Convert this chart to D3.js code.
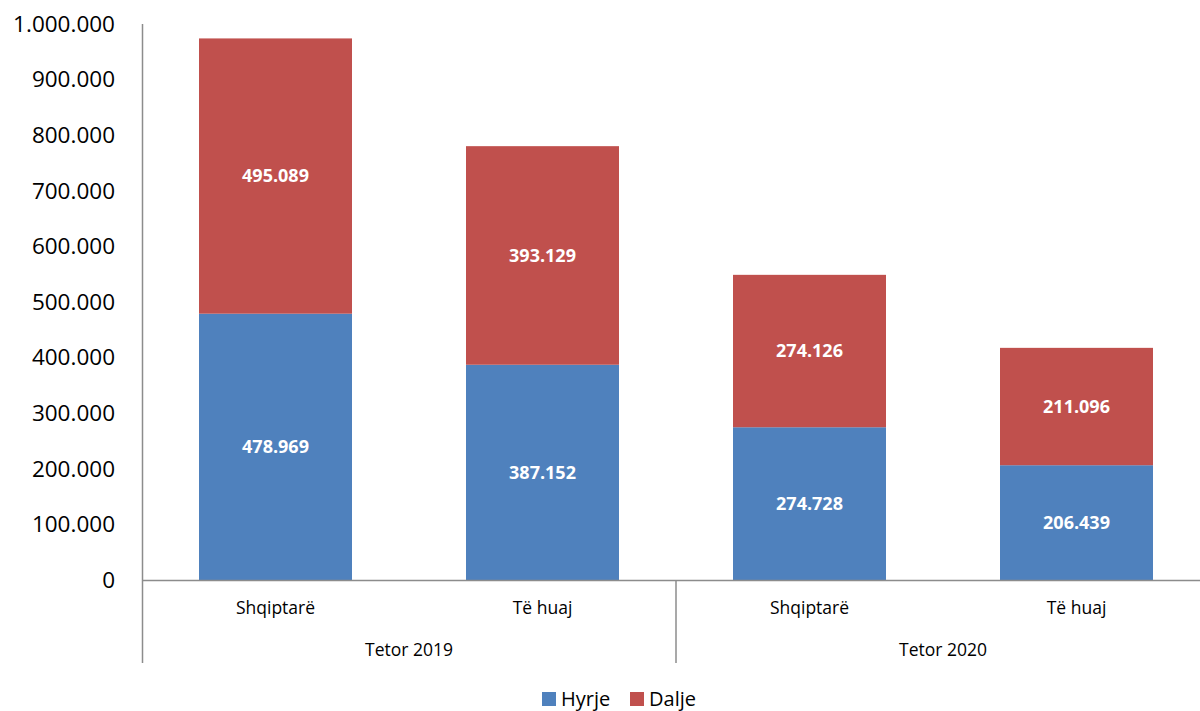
<!DOCTYPE html>
<html>
<head>
<meta charset="utf-8">
<script src="https://cdn.jsdelivr.net/npm/d3@7"></script>
<style>
  html, body { margin: 0; padding: 0; background: #fff; }
  svg { display: block; }
  text { font-family: "Open Sans", "Noto Sans", sans-serif; }
</style>
</head>
<body>
<svg id="chart" width="1200" height="711"></svg>
<script>
const categories = ["Shqiptarë", "Të huaj", "Shqiptarë", "Të huaj"];
const groups = ["Tetor 2019", "Tetor 2020"];
const hyrje = [478969, 387152, 274728, 206439];
const dalje = [495089, 393129, 274126, 211096];
const seriesNames = ["Hyrje", "Dalje"];
const yTicks = [0, 100000, 200000, 300000, 400000, 500000, 600000, 700000, 800000, 900000, 1000000];

const colors = { Hyrje: "#4F81BD", Dalje: "#C0504D" };
const locale = d3.formatLocale({ decimal: ",", thousands: ".", grouping: [3], currency: ["", ""] });
const fmt = locale.format(",d");

const svg = d3.select("#chart");
const x0 = 142, x1 = 1210, yTop = 24, yBase = 580, axisBottom = 663;

const idx = categories.map((c, i) => i);
const x = d3.scaleBand().domain(idx).range([x0, x1]).paddingInner(0.427).paddingOuter(0.2135);
const y = d3.scaleLinear().domain([0, 1000000]).range([yBase, yTop]);

const data = idx.map(i => ({ i, Hyrje: hyrje[i], Dalje: dalje[i] }));
const stack = d3.stack().keys(seriesNames)(data);

// bars
stack.forEach(s => {
  svg.append("g").selectAll("rect").data(s).join("rect")
    .attr("x", d => x(d.data.i))
    .attr("width", x.bandwidth())
    .attr("y", d => y(d[1]))
    .attr("height", d => y(d[0]) - y(d[1]))
    .attr("fill", colors[s.key]);
});

// value labels
stack.forEach(s => {
  svg.append("g").selectAll("text").data(s).join("text")
    .attr("x", d => x(d.data.i) + x.bandwidth() / 2)
    .attr("y", d => (y(d[0]) + y(d[1])) / 2)
    .attr("dy", "0.35em")
    .attr("text-anchor", "middle")
    .attr("fill", "#fff")
    .attr("font-weight", "bold")
    .attr("font-size", 18)
    .text(d => fmt(d[1] - d[0]));
});

// y axis labels
svg.append("g").selectAll("text").data(yTicks).join("text")
  .attr("x", 115)
  .attr("y", d => y(d))
  .attr("dy", "0.35em")
  .attr("text-anchor", "end")
  .attr("font-size", 22.5)
  .attr("fill", "#000")
  .text(d => fmt(d));

// y axis line
svg.append("line")
  .attr("x1", x0 + 0.5).attr("x2", x0 + 0.5)
  .attr("y1", yTop).attr("y2", axisBottom)
  .attr("stroke", "#8c8c8c").attr("stroke-width", 1.5);

// x axis line
svg.append("line")
  .attr("x1", x0).attr("x2", 1200)
  .attr("y1", yBase + 0.5).attr("y2", yBase + 0.5)
  .attr("stroke", "#8c8c8c").attr("stroke-width", 1.5);

// group separators and group labels
const step = x.step();
groups.forEach((g, gi) => {
  const sepX = x0 + (gi + 1) * 2 * step;
  svg.append("line")
    .attr("x1", sepX).attr("x2", sepX)
    .attr("y1", yBase).attr("y2", axisBottom)
    .attr("stroke", "#8c8c8c").attr("stroke-width", 1.5);
  svg.append("text")
    .attr("x", x0 + (gi * 2 + 1) * step)
    .attr("y", 650)
    .attr("dy", "0.35em")
    .attr("text-anchor", "middle")
    .attr("font-size", 17.5)
    .attr("fill", "#000")
    .text(g);
});

// category labels
svg.append("g").selectAll("text").data(idx).join("text")
  .attr("x", i => x(i) + x.bandwidth() / 2)
  .attr("y", 608)
  .attr("dy", "0.35em")
  .attr("text-anchor", "middle")
  .attr("font-size", 17.5)
  .attr("fill", "#000")
  .text(i => categories[i]);

// legend
const legend = svg.append("g");
const legendItems = [{ name: "Hyrje", x: 542 }, { name: "Dalje", x: 630 }];
legendItems.forEach(it => {
  legend.append("rect").attr("x", it.x).attr("y", 692).attr("width", 14).attr("height", 14).attr("fill", colors[it.name]);
  legend.append("text").attr("x", it.x + 19).attr("y", 699).attr("dy", "0.35em")
    .attr("font-size", 20).attr("fill", "#000").text(it.name);
});
</script>
</body>
</html>
